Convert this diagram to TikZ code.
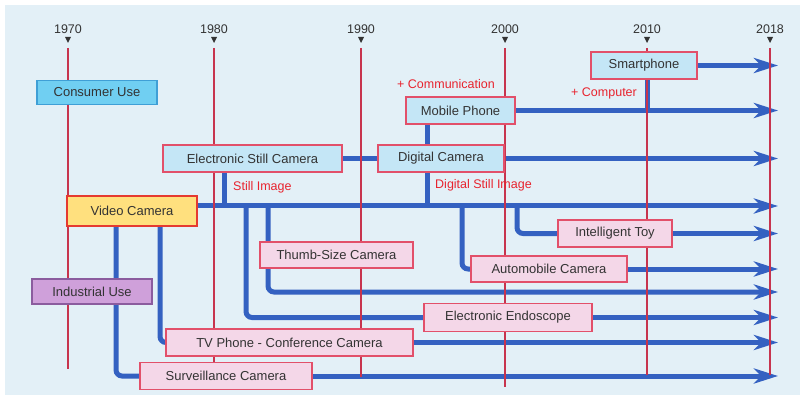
\documentclass[tikz,border=0pt]{standalone}
\usepackage{fontspec}
\setmainfont{Liberation Sans}
\usetikzlibrary{arrows.meta}
\definecolor{bgc}{HTML}{E3F0F7}
\definecolor{lbfill}{HTML}{C4E6F6}
\definecolor{pkfill}{HTML}{F4D7E8}
\definecolor{bordc}{HTML}{E2506A}
\definecolor{cufill}{HTML}{70CFF2}
\definecolor{cubord}{HTML}{3F9FD6}
\definecolor{iufill}{HTML}{CFA0DA}
\definecolor{iubord}{HTML}{8B5C9E}
\definecolor{vcfill}{HTML}{FFE07E}
\definecolor{vcbord}{HTML}{E53A30}
\definecolor{flowc}{HTML}{3461C1}
\definecolor{yearc}{HTML}{C7344E}
\definecolor{redtxt}{HTML}{E8232E}
\definecolor{boxtxt}{HTML}{333333}
\pgfdeclarelayer{back}
\pgfdeclarelayer{flowlayer}
\pgfdeclarelayer{yearlayer}
\pgfsetlayers{back,flowlayer,yearlayer,main}
\begin{document}
\begin{tikzpicture}[x=1pt,y=-1pt,
  box/.style={draw=bordc, line width=1.3pt, inner sep=0pt, text=boxtxt,
    font=\fontsize{13}{15}\selectfont},
  lbbox/.style={box, fill=lbfill},
  pkbox/.style={box, fill=pkfill},
  ln/.style={draw=flowc, line width=5pt, rounded corners=6pt},
  arr/.style={ln, -{Stealth[length=24pt,width=15pt,inset=7pt]}},
  yearline/.style={draw=yearc, line width=1.2pt},
  yearlbl/.style={font=\fontsize{12.5}{14}\selectfont, text=boxtxt, inner sep=0pt},
  note/.style={font=\fontsize{12.5}{14}\selectfont, text=redtxt, inner sep=0pt, anchor=west}
]
\useasboundingbox (0,0) rectangle (800,398);
\begin{pgfonlayer}{back}
\fill[bgc] (5,5) rectangle (800,395);
\end{pgfonlayer}

% boxes
\node[box, fill=cufill, draw=cubord, minimum width=120pt, minimum height=24pt] (consumer) at (97,92.5) {Consumer Use};
\node[lbbox, minimum width=106pt, minimum height=27pt] (smart) at (644,65.5) {Smartphone};
\node[lbbox, minimum width=109pt, minimum height=27pt] (mobile) at (460.5,110.5) {Mobile Phone};
\node[lbbox, minimum width=179pt, minimum height=27pt] (esc) at (252.5,158.5) {Electronic Still Camera};
\node[lbbox, minimum width=126pt, minimum height=27pt] (digital) at (441,158.5) {Digital Camera};
\node[box, fill=vcfill, draw=vcbord, minimum width=130pt, minimum height=30pt] (video) at (132,211) {Video Camera};
\node[pkbox, minimum width=153pt, minimum height=26pt] (thumb) at (336.5,255) {Thumb-Size Camera};
\node[pkbox, minimum width=114pt, minimum height=27pt] (toy) at (615,233.5) {Intelligent Toy};
\node[pkbox, minimum width=156pt, minimum height=26pt] (auto) at (549,269) {Automobile Camera};
\node[box, fill=iufill, draw=iubord, minimum width=120pt, minimum height=25pt] (industrial) at (92,291.5) {Industrial Use};
\node[pkbox, minimum width=168pt, minimum height=28pt] (endo) at (508,317.5) {Electronic Endoscope};
\node[pkbox, minimum width=247pt, minimum height=27pt] (tv) at (289.5,342.5) {TV Phone - Conference Camera};
\node[pkbox, minimum width=172pt, minimum height=27pt] (surv) at (226,376) {Surveillance Camera};

% red notes
\node[note] (ncomm) at (397,84) {+ Communication};
\node[note] (ncomp) at (571,93) {+ Computer};
\node[note] (nstill) at (233,187) {Still Image};
\node[note] (ndigital) at (435,185) {Digital Still Image};

% helper coordinates
\coordinate (xE) at (778,0);
\coordinate (vy) at (0,206);
\coordinate (r292) at (0,292);
\coordinate (x10) at (647,0);
\coordinate (b427) at (427,0);
\coordinate (b224) at (224,0);
\coordinate (b462) at (462,0);
\coordinate (b517) at (517,0);
\coordinate (b268) at (268,0);
\coordinate (b246) at (246,0);
\coordinate (b160) at (160,0);
\coordinate (b116) at (116,0);

\begin{pgfonlayer}{flowlayer}
\draw[arr] (smart.east) -- (smart.east -| xE);
\draw[arr] (mobile.east) -- (mobile.east -| xE);
\draw[ln] (smart.south -| x10) -- (x10 |- mobile.east);
\draw[ln] (mobile.south -| b427) -- (b427 |- vy);
\draw[ln] (esc.east) -- (digital.west);
\draw[arr] (digital.east) -- (digital.east -| xE);
\draw[ln] (esc.south -| b224) -- (b224 |- vy);
\draw[arr] (video.east |- vy) -- (xE |- vy);
\draw[ln] (b462 |- vy) -- (b462 |- auto.west) -- (auto.west);
\draw[arr] (auto.east) -- (auto.east -| xE);
\draw[ln] (b517 |- vy) -- (b517 |- toy.west) -- (toy.west);
\draw[arr] (toy.east) -- (toy.east -| xE);
\draw[arr] (b268 |- vy) -- (b268 |- r292) -- (xE |- r292);
\draw[ln] (b246 |- vy) -- (b246 |- endo.west) -- (endo.west);
\draw[arr] (endo.east) -- (endo.east -| xE);
\draw[ln] (video.south -| b160) -- (b160 |- tv.west) -- (tv.west);
\draw[arr] (tv.east) -- (tv.east -| xE);
\draw[ln] (video.south -| b116) -- (b116 |- surv.west) -- (surv.west);
\draw[arr] (surv.east) -- (surv.east -| xE);
\end{pgfonlayer}

\begin{pgfonlayer}{yearlayer}
\foreach \x/\b/\yr in {68/369/1970, 214/380/1980, 361/377/1990, 505/387/2000, 647/375/2010, 770/375/2018} {
  \node[yearlbl] (y\yr) at (\x,29) {\yr};
  \fill[boxtxt] (\x-3,37) -- (\x+3,37) -- (\x,43) -- cycle;
  \draw[yearline] (\x,48) -- (\x,\b);
}
\end{pgfonlayer}
\end{tikzpicture}
\end{document}
